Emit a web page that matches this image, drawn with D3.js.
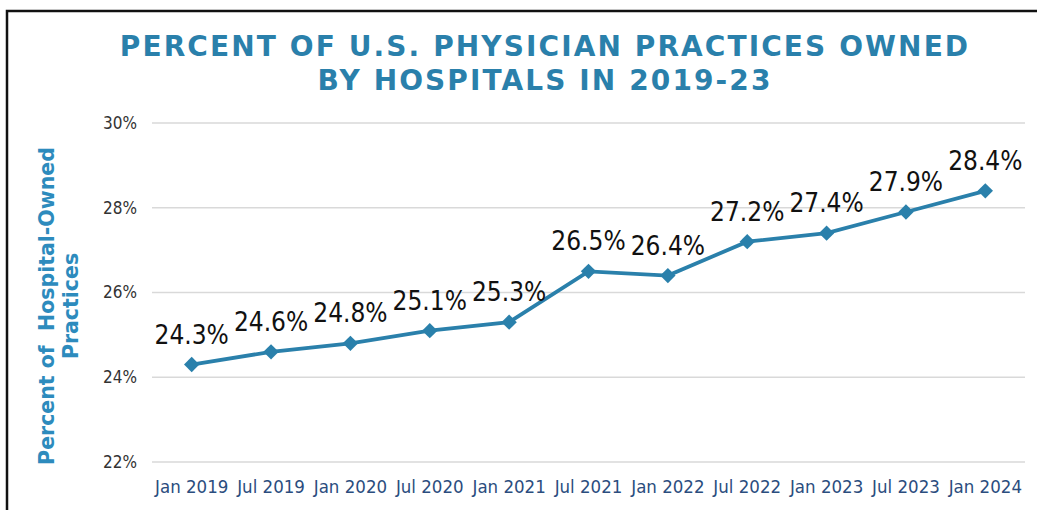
<!DOCTYPE html>
<html>
<head>
<meta charset="utf-8">
<script src="https://cdnjs.cloudflare.com/ajax/libs/d3/7.8.5/d3.min.js"></script>
<style>
  body { margin: 0; background: #fff; }
  svg { display: block; }
</style>
</head>
<body>
<div id="chart"></div>
<script>
// datos del gráfico
const periods = ["Jan 2019", "Jul 2019", "Jan 2020", "Jul 2020", "Jan 2021", "Jul 2021",
                 "Jan 2022", "Jul 2022", "Jan 2023", "Jul 2023", "Jan 2024"];
const pctOwned = [24.3, 24.6, 24.8, 25.1, 25.3, 26.5, 26.4, 27.2, 27.4, 27.9, 28.4];
const yTicks = [22, 24, 26, 28, 30];

const width = 1037;
const height = 510;
const blue = "#2a80ab";
const condensed = "'DejaVu Sans Condensed', 'DejaVu Sans', sans-serif";

const svg = d3.select("#chart").append("svg")
    .attr("width", width)
    .attr("height", height);

// marco
svg.append("path")
    .attr("d", "M7,510 V11 H1037")
    .attr("fill", "none")
    .attr("stroke", "#111")
    .attr("stroke-width", 2.5);

// título
const title = svg.append("text")
    .attr("text-anchor", "middle")
    .attr("font-family", "'DejaVu Sans', sans-serif")
    .attr("font-weight", "bold")
    .attr("font-size", 28)
    .style("letter-spacing", "2.1px")
    .attr("fill", blue);
title.append("tspan").attr("x", 545).attr("y", 56).text("PERCENT OF U.S. PHYSICIAN PRACTICES OWNED");
title.append("tspan").attr("x", 545).attr("y", 90).text("BY HOSPITALS IN 2019-23");

const x = d3.scaleBand()
    .domain(periods)
    .range([152, 1025]);

const y = d3.scaleLinear()
    .domain([22, 30])
    .range([462, 123]);

// líneas de cuadrícula
svg.append("g")
  .selectAll("line")
  .data(yTicks)
  .join("line")
    .attr("x1", 152)
    .attr("x2", 1025)
    .attr("y1", d => y(d))
    .attr("y2", d => y(d))
    .attr("stroke", "#d9d9d9")
    .attr("stroke-width", 1.5);

// eje Y
const yAxis = svg.append("g")
    .attr("transform", "translate(152,0)")
    .call(d3.axisLeft(y).tickValues(yTicks).tickSize(0).tickPadding(15).tickFormat(d => d + "%"));
yAxis.select(".domain").remove();
yAxis.selectAll("text")
    .attr("font-family", condensed)
    .attr("font-size", 17)
    .attr("fill", "#333");

// eje X
const xAxis = svg.append("g")
    .attr("transform", "translate(0,462)")
    .call(d3.axisBottom(x).tickSize(0).tickPadding(18));
xAxis.select(".domain").remove();
xAxis.selectAll("text")
    .attr("font-family", condensed)
    .attr("font-size", 18.5)
    .attr("fill", "#2b4d7e");

// título eje Y
const yTitle = svg.append("text")
    .attr("transform", "translate(54,306) rotate(-90)")
    .attr("text-anchor", "middle")
    .attr("font-family", "'DejaVu Sans', sans-serif")
    .attr("font-weight", "bold")
    .attr("font-size", 20.5)
    .attr("fill", "#2d8bbd");
yTitle.append("tspan").attr("x", 0).attr("y", 0).attr("xml:space", "preserve").text("Percent of  Hospital-Owned");
yTitle.append("tspan").attr("x", 0).attr("y", 24).text("Practices");

const cx = d => x(d) + x.bandwidth() / 2;

// línea
const line = d3.line()
    .x((d, i) => cx(periods[i]))
    .y(d => y(d));

svg.append("path")
    .datum(pctOwned)
    .attr("d", line)
    .attr("fill", "none")
    .attr("stroke", blue)
    .attr("stroke-width", 3.8);

// marcadores
svg.append("g")
  .selectAll("path")
  .data(pctOwned)
  .join("path")
    .attr("d", d3.symbol(d3.symbolDiamond2, 150))
    .attr("transform", (d, i) => `translate(${cx(periods[i])},${y(d)})`)
    .attr("fill", blue);

// etiquetas
svg.append("g")
  .selectAll("text")
  .data(pctOwned)
  .join("text")
    .attr("x", (d, i) => cx(periods[i]))
    .attr("y", d => y(d) - 21)
    .attr("text-anchor", "middle")
    .attr("font-family", condensed)
    .attr("font-size", 26)
    .attr("fill", "#111")
    .text(d => d.toFixed(1) + "%");
</script>
</body>
</html>
